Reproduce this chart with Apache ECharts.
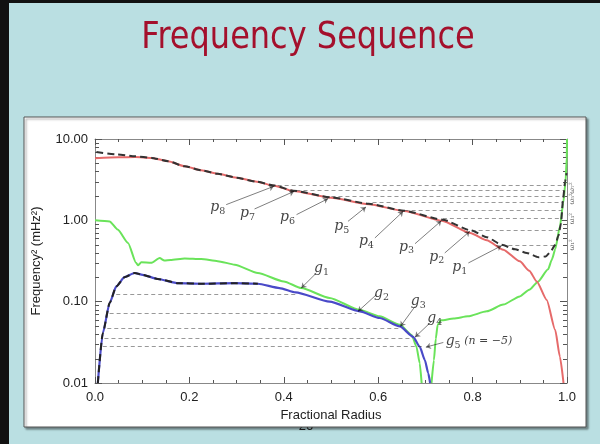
<!DOCTYPE html>
<html>
<head>
<meta charset="utf-8">
<script src="https://cdn.jsdelivr.net/npm/echarts@6/dist/echarts.min.js"></script>
<style>
html, body { margin: 0; padding: 0; }
#main { width: 600px; height: 444px; }
</style>
</head>
<body>
<div id="main"></div>
<script>
// curves, [fractional radius, frequency^2 in mHz^2]
const lambCurve = [[0, 5.8], [0.05, 5.95], [0.085, 6.0], [0.12, 5.85], [0.155, 5.33], [0.19, 4.62], [0.225, 4.13], [0.26, 3.73], [0.30, 3.35], [0.34, 3.0], [0.38, 2.66], [0.42, 2.3], [0.50, 1.9], [0.58, 1.58], [0.655, 1.3], [0.735, 0.99], [0.795, 0.70], [0.83, 0.57], [0.865, 0.435], [0.90, 0.313], [0.92, 0.24], [0.936, 0.177], [0.957, 0.105], [0.975, 0.045], [0.985, 0.021], [0.9926, 0.01]];
const acousticCurve = [[0.003, 6.9], [0.048, 6.44], [0.085, 6.13], [0.12, 5.86], [0.155, 5.33], [0.19, 4.62], [0.225, 4.13], [0.26, 3.73], [0.30, 3.35], [0.34, 3.0], [0.38, 2.68], [0.42, 2.31], [0.50, 1.92], [0.58, 1.6], [0.655, 1.31], [0.736, 1.02], [0.797, 0.75], [0.83, 0.62], [0.862, 0.5], [0.89, 0.44], [0.915, 0.397], [0.94, 0.352], [0.955, 0.36], [0.965, 0.41], [0.975, 0.5], [0.982, 0.65], [0.987, 0.9], [0.992, 1.9], [0.996, 3.0], [0.999, 3.8]];
const buoyancyInner = [[0, 1.0], [0.031, 0.97], [0.048, 0.77], [0.07, 0.527], [0.087, 0.30], [0.091, 0.28], [0.098, 0.305], [0.119, 0.30], [0.137, 0.344], [0.147, 0.32], [0.16, 0.326], [0.19, 0.34], [0.225, 0.334], [0.26, 0.315], [0.296, 0.285], [0.345, 0.225], [0.40, 0.177], [0.437, 0.147], [0.497, 0.111], [0.561, 0.079], [0.603, 0.066], [0.646, 0.052], [0.671, 0.039], [0.681, 0.028], [0.688, 0.0175], [0.692, 0.01]];
const buoyancyOuter = [[0.713, 0.01], [0.718, 0.019], [0.722, 0.035], [0.726, 0.052], [0.733, 0.059], [0.76, 0.062], [0.79, 0.066], [0.83, 0.076], [0.865, 0.092], [0.90, 0.116], [0.92, 0.14], [0.938, 0.175], [0.96, 0.25], [0.968, 0.33], [0.975, 0.44], [0.985, 0.84], [0.992, 1.64], [0.997, 3.0], [0.9995, 6], [1.0, 10]];
const gravityCurve = [[0.006, 0.01], [0.0165, 0.041], [0.031, 0.096], [0.045, 0.154], [0.0626, 0.20], [0.084, 0.225], [0.101, 0.214], [0.133, 0.19], [0.176, 0.169], [0.225, 0.166], [0.296, 0.169], [0.345, 0.166], [0.391, 0.147], [0.425, 0.13], [0.497, 0.10], [0.561, 0.076], [0.603, 0.063], [0.646, 0.0496], [0.674, 0.037], [0.688, 0.028], [0.699, 0.019], [0.706, 0.0132], [0.710, 0.01]];
const gravityDashed = gravityCurve.filter(p => p[0] <= 0.36);

// mode frequencies (horizontal dashes)
const pLevels = [2.67, 2.34, 1.99, 1.69, 1.33, 1.05, 0.76, 0.50];
const pStart = [0.387, 0.427, 0.501, 0.588, 0.656, 0.737, 0.798, 0.861];
const pEnd = [0.995, 0.995, 0.993, 0.991, 0.989, 0.986, 0.982, 0.975];
const gLevels = [0.124, 0.0718, 0.047, 0.0354, 0.0284];
const gStart = [0.045, 0.031, 0.026, 0.020, 0.0165];
const gEnd = [0.427, 0.554, 0.646, 0.673, 0.694];

// annotations
const pOrders = ['8', '7', '6', '5', '4', '3', '2', '1'];
const pLabelAt = [[0.260, 1.43], [0.323, 1.21], [0.408, 1.08], [0.523, 0.836], [0.575, 0.551], [0.660, 0.470], [0.724, 0.354], [0.773, 0.2615]];
const pArrowFrom = [[0.278, 1.56], [0.338, 1.38], [0.427, 1.175], [0.536, 0.972], [0.593, 0.607], [0.678, 0.516], [0.741, 0.397], [0.791, 0.299]];
const pArrowTo = [[0.379, 2.62], [0.4216, 2.27], [0.494, 1.85], [0.574, 1.46], [0.653, 1.29], [0.734, 0.99], [0.794, 0.732], [0.8615, 0.488]];
const gOrders = ['1', '2', '3', '4', '5'];
const gNotes = ['', '', '', '', ' (n = −5)'];
const gLabelAt = [[0.480, 0.259], [0.607, 0.1276], [0.685, 0.1006], [0.720, 0.0628], [0.8134, 0.0324]];
const gArrowFrom = [[0.469, 0.225], [0.596, 0.1216], [0.678, 0.0873], [0.713, 0.0571], [0.738, 0.0315]];
const gArrowTo = [[0.437, 0.147], [0.557, 0.0757], [0.647, 0.0495], [0.678, 0.0366], [0.701, 0.0276]];
const omegaNames = ['ω₇²', 'ω₅²', 'ω₃²', 'ω₁²'];
const omegaAt = [[1.012, 2.5], [1.012, 1.84], [1.012, 1.05], [1.012, 0.5]];

// log axis decades; minor ticks at 2..9 of each
const yDecades = [0.01, 0.1, 1];
const yMinorTicks = [];
yDecades.forEach(d => { for (let k = 2; k <= 9; k++) yMinorTicks.push(+(d * k).toPrecision(3)); });

const chart = echarts.init(document.getElementById('main'));

const curve = (data, color, width, dash, z) => ({
  type: 'line', data, symbol: 'none', smooth: 0.2, smoothMonotone: 'x',
  lineStyle: { color, width, type: dash || 'solid' }, z, silent: true
});
const segments = (from, to, style, arrow) => ({
  type: 'lines', coordinateSystem: 'cartesian2d', polyline: false, silent: true, z: 4,
  symbol: arrow ? ['none', 'arrow'] : 'none', symbolSize: 5,
  lineStyle: style,
  data: from.map((p, i) => ({ coords: [p, to[i]] }))
});
const mathRich = {
  m: { fontFamily: 'DejaVu Serif', fontStyle: 'italic', fontSize: 14, lineHeight: 18, color: '#111' },
  s: { fontFamily: 'DejaVu Serif', fontSize: 9.5, lineHeight: 18, verticalAlign: 'bottom', color: '#111' },
  n: { fontFamily: 'DejaVu Serif', fontStyle: 'italic', fontSize: 11, lineHeight: 18, color: '#111' }
};
const labels = (names, at, style) => ({
  type: 'scatter', symbolSize: 1, clip: false, silent: true, z: 5,
  itemStyle: { color: 'rgba(0,0,0,0)' },
  data: names.map((n, i) => ({ name: n, value: at[i] })),
  label: Object.assign({ show: true, position: 'inside', formatter: '{b}', color: '#111' }, style)
});
const tickStyle = { color: '#555', width: 1 };
const axisLineStyle = { color: '#888', width: 1 };

chart.setOption({
  animation: false,
  backgroundColor: '#badfe2',
  graphic: { elements: [
    { type: 'rect', z: -12, shape: { x: 0, y: 0, width: 9, height: 444 }, style: { fill: '#111' } },
    { type: 'rect', z: -12, shape: { x: 0, y: 0, width: 600, height: 3 }, style: { fill: '#111' } },
    { type: 'text', z: -11, x: 306, y: 433, style: { text: '26', fontSize: 13, fontFamily: 'Liberation Sans', fill: '#222', textAlign: 'center', textVerticalAlign: 'bottom' } },
    { type: 'rect', z: -10, shape: { x: 24, y: 117, width: 562, height: 310 },
      style: { fill: '#fff', stroke: '#555', lineWidth: 1, shadowColor: 'rgba(0,0,0,0.4)', shadowOffsetX: 2, shadowOffsetY: 2, shadowBlur: 2 } },
    { type: 'text', z: -9, x: 308, y: 38, scaleY: 1.15,
      style: { text: 'Frequency Sequence', fontSize: 32, fontFamily: 'DejaVu Sans', fill: '#a4102c', textAlign: 'center', textVerticalAlign: 'middle' } }
  ] },
  grid: { left: 95, top: 139, width: 472, height: 244 },
  xAxis: [
    { type: 'value', min: 0, max: 1, interval: 0.2, position: 'bottom',
      axisLine: { onZero: false, lineStyle: axisLineStyle },
      axisTick: { inside: true, length: 6, lineStyle: tickStyle },
      minorTick: { show: true, splitNumber: 4, length: 3, lineStyle: tickStyle },
      splitLine: { show: false },
      axisLabel: { formatter: v => v.toFixed(1), fontSize: 13, color: '#222', margin: 8, fontFamily: 'Liberation Sans' },
      name: 'Fractional Radius', nameLocation: 'middle', nameGap: 22,
      nameTextStyle: { fontSize: 13, color: '#222', fontFamily: 'Liberation Sans' } },
    { type: 'value', min: 0, max: 1, interval: 0.2, position: 'top',
      axisLine: { onZero: false, lineStyle: axisLineStyle },
      axisTick: { inside: true, length: 6, lineStyle: tickStyle },
      minorTick: { show: true, splitNumber: 4, length: 3, lineStyle: tickStyle },
      splitLine: { show: false }, axisLabel: { show: false } }
  ],
  yAxis: [
    { type: 'log', logBase: 10, min: 0.01, max: 10, position: 'left',
      axisLine: { show: true, onZero: false, lineStyle: axisLineStyle },
      axisTick: { show: true, inside: true, length: 7, lineStyle: tickStyle },
      minorTick: { show: false },
      splitLine: { show: false },
      axisLabel: { formatter: v => v.toFixed(2), fontSize: 13, color: '#222', margin: 7, fontFamily: 'Liberation Sans' },
      name: 'Frequency² (mHz²)', nameLocation: 'middle', nameGap: 52,
      nameTextStyle: { fontSize: 13, color: '#222', fontFamily: 'Liberation Sans' } },
    { type: 'log', logBase: 10, min: 0.01, max: 10, position: 'right',
      axisLine: { show: true, onZero: false, lineStyle: axisLineStyle },
      axisTick: { show: true, inside: true, length: 7, lineStyle: tickStyle },
      minorTick: { show: false },
      splitLine: { show: false }, axisLabel: { show: false } }
  ],
  series: [
    {
      type: 'custom', coordinateSystem: 'cartesian2d', silent: true, z: 1,
      data: yMinorTicks.map(v => [0, v]),
      renderItem: (params, api) => {
        const v = api.value(1);
        const l = api.coord([0, v]);
        const r = api.coord([1, v]);
        const y = Math.round(l[1]) + 0.5;
        return { type: 'group', children: [
          { type: 'line', shape: { x1: l[0], y1: y, x2: l[0] + 4, y2: y }, style: { stroke: '#555', lineWidth: 1 } },
          { type: 'line', shape: { x1: r[0], y1: y, x2: r[0] - 4, y2: y }, style: { stroke: '#555', lineWidth: 1 } }
        ] };
      }
    },
    segments(pStart.map((s, i) => [s, pLevels[i]]), pEnd.map((e, i) => [e, pLevels[i]]), { color: '#333', width: 1, type: [4, 3] }, false),
    segments(gStart.map((s, i) => [s, gLevels[i]]), gEnd.map((e, i) => [e, gLevels[i]]), { color: '#333', width: 1, type: [4, 3] }, false),
    curve(buoyancyInner, '#6ae35a', 2, null, 2),
    curve(buoyancyOuter, '#6ae35a', 2, null, 2),
    curve(lambCurve, '#e66a6a', 2, null, 2),
    curve(gravityCurve, '#4a4ac8', 2.2, null, 3),
    curve(acousticCurve, '#333', 2, [7, 4], 3),
    curve(gravityDashed, '#222', 2, [7, 4], 3),
    segments(pArrowFrom, pArrowTo, { color: '#000', width: 1 }, true),
    segments(gArrowFrom, gArrowTo, { color: '#000', width: 1 }, true),
    labels(pOrders.map(k => `{m|p}{s|${k}}`), pLabelAt, { rich: mathRich }),
    labels(gOrders.map((k, i) => `{m|g}{s|${k}}` + (gNotes[i] ? `{n|${gNotes[i]}}` : '')), gLabelAt, { rich: mathRich }),
    labels(omegaNames, omegaAt, { fontFamily: 'DejaVu Serif', fontSize: 7, rotate: 90, color: '#333' })
  ]
});
</script>
</body>
</html>
